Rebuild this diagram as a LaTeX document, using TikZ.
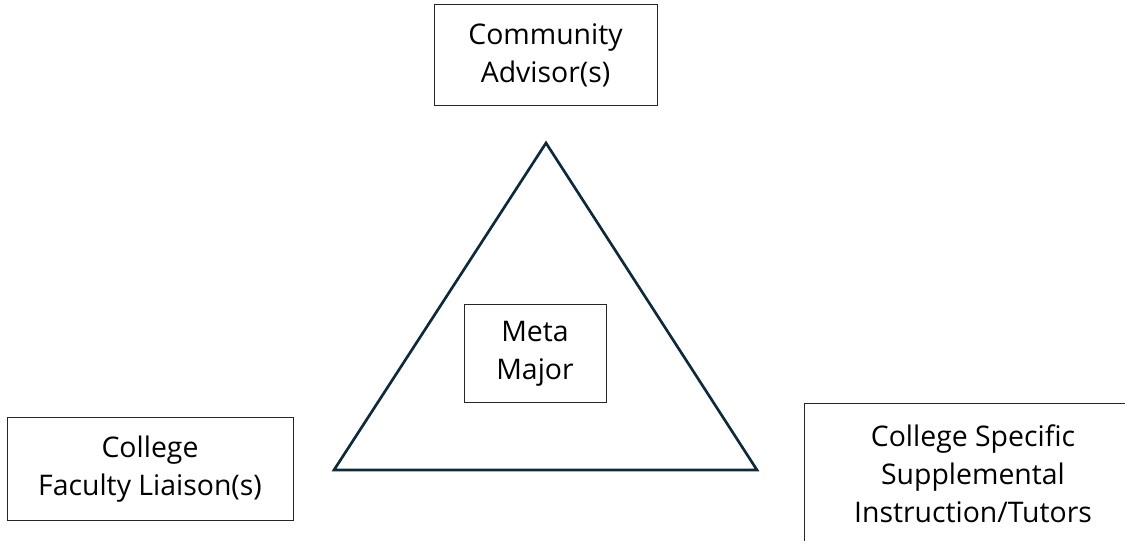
\documentclass[tikz,border=0pt]{standalone}
\usepackage{fontspec}
\setmainfont{Open Sans}
\usepackage{xcolor}
\definecolor{trinavy}{HTML}{0E2A3A}
\tikzset{
  rolebox/.style={draw=black!85, line width=0.75pt, align=center, inner sep=0pt,
    font=\fontsize{21.3}{28.5}\selectfont}
}
\begin{document}
\begin{tikzpicture}[x=0.75pt,y=-0.75pt]
\useasboundingbox (0,0) rectangle (1125,541);
\clip (0,0) rectangle (1125,541);
\draw[trinavy, line width=2pt, line join=miter] (546,143) -- (757,470) -- (334,470) -- cycle;
\node[rolebox, minimum width=223*0.75pt, minimum height=101*0.75pt] (advisor) at (545.5,55.5) {Community\\Advisor(s)};
\node[rolebox, minimum width=142*0.75pt, minimum height=98*0.75pt] (meta) at (535,354) {Meta\\Major};
\node[rolebox, minimum width=286*0.75pt, minimum height=103*0.75pt] (liaison) at (150,469.5) {College\\Faculty Liaison(s)};
\node[rolebox, minimum width=338*0.75pt, minimum height=140*0.75pt] (tutors) at (973,474) {College Specific\\Supplemental\\Instruction/Tutors};
\end{tikzpicture}
\end{document}
